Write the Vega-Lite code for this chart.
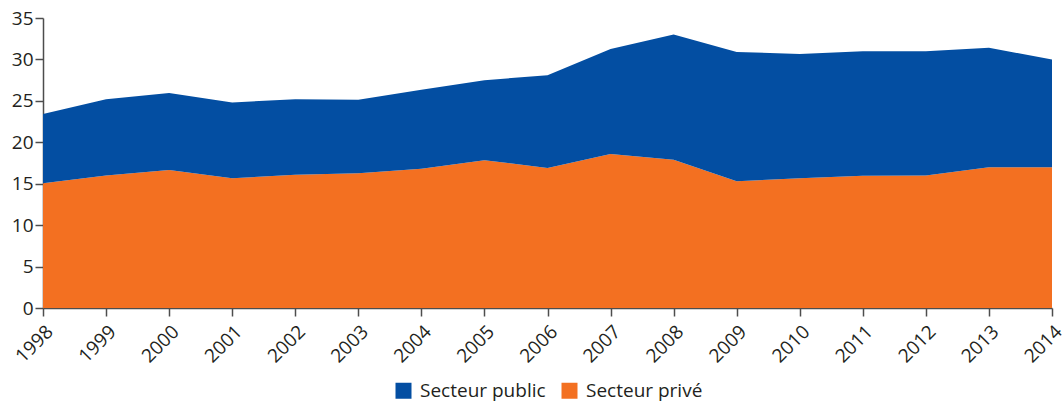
{
  "$schema": "https://vega.github.io/schema/vega-lite/v6.json",
  "width": 1009,
  "height": 290,
  "autosize": "none",
  "padding": {"left": 43, "top": 18, "right": 11, "bottom": 95},
  "background": "white",
  "config": {
    "view": {"stroke": null},
    "font": "Open Sans",
    "axis": {"labelFont": "Open Sans", "labelColor": "#231F20", "domainColor": "#4d4d4d", "tickColor": "#4d4d4d", "grid": false, "title": null, "tickSize": 8, "domainWidth": 1.5, "tickWidth": 1.5}
  },
  "data": {
    "values": [
      {"annee": 1998, "serie": "Secteur privé", "valeur": 15.07},
      {"annee": 1999, "serie": "Secteur privé", "valeur": 16.0},
      {"annee": 2000, "serie": "Secteur privé", "valeur": 16.67},
      {"annee": 2001, "serie": "Secteur privé", "valeur": 15.67},
      {"annee": 2002, "serie": "Secteur privé", "valeur": 16.07},
      {"annee": 2003, "serie": "Secteur privé", "valeur": 16.27},
      {"annee": 2004, "serie": "Secteur privé", "valeur": 16.8},
      {"annee": 2005, "serie": "Secteur privé", "valeur": 17.84},
      {"annee": 2006, "serie": "Secteur privé", "valeur": 16.9},
      {"annee": 2007, "serie": "Secteur privé", "valeur": 18.6},
      {"annee": 2008, "serie": "Secteur privé", "valeur": 17.9},
      {"annee": 2009, "serie": "Secteur privé", "valeur": 15.3},
      {"annee": 2010, "serie": "Secteur privé", "valeur": 15.67},
      {"annee": 2011, "serie": "Secteur privé", "valeur": 15.95},
      {"annee": 2012, "serie": "Secteur privé", "valeur": 16.0},
      {"annee": 2013, "serie": "Secteur privé", "valeur": 17.0},
      {"annee": 2014, "serie": "Secteur privé", "valeur": 17.0},
      {"annee": 1998, "serie": "Secteur public", "valeur": 8.33},
      {"annee": 1999, "serie": "Secteur public", "valeur": 9.2},
      {"annee": 2000, "serie": "Secteur public", "valeur": 9.27},
      {"annee": 2001, "serie": "Secteur public", "valeur": 9.13},
      {"annee": 2002, "serie": "Secteur public", "valeur": 9.13},
      {"annee": 2003, "serie": "Secteur public", "valeur": 8.86},
      {"annee": 2004, "serie": "Secteur public", "valeur": 9.54},
      {"annee": 2005, "serie": "Secteur public", "valeur": 9.66},
      {"annee": 2006, "serie": "Secteur public", "valeur": 11.2},
      {"annee": 2007, "serie": "Secteur public", "valeur": 12.65},
      {"annee": 2008, "serie": "Secteur public", "valeur": 15.1},
      {"annee": 2009, "serie": "Secteur public", "valeur": 15.6},
      {"annee": 2010, "serie": "Secteur public", "valeur": 14.98},
      {"annee": 2011, "serie": "Secteur public", "valeur": 15.05},
      {"annee": 2012, "serie": "Secteur public", "valeur": 15.0},
      {"annee": 2013, "serie": "Secteur public", "valeur": 14.4},
      {"annee": 2014, "serie": "Secteur public", "valeur": 13.0}
    ]
  },
  "mark": {"type": "area", "interpolate": "linear"},
  "encoding": {
    "x": {
      "field": "annee",
      "type": "quantitative",
      "scale": {"domain": [1998, 2014], "nice": false, "zero": false},
      "axis": {"values": [1998,1999,2000,2001,2002,2003,2004,2005,2006,2007,2008,2009,2010,2011,2012,2013,2014], "format": "d", "labelAngle": -45, "labelFontSize": 19, "labelPadding": 6, "labelDx": -4}
    },
    "y": {
      "field": "valeur",
      "type": "quantitative",
      "stack": "zero",
      "scale": {"domain": [0, 35], "nice": false},
      "axis": {"values": [0,5,10,15,20,25,30,35], "labelFontSize": 19, "labelPadding": 2}
    },
    "color": {
      "field": "serie",
      "type": "nominal",
      "scale": {"domain": ["Secteur public", "Secteur privé"], "range": ["#034EA2", "#F37021"]},
      "legend": {"title": null, "orient": "none", "legendX": 351, "legendY": 363, "direction": "horizontal", "symbolType": "square", "symbolSize": 256, "symbolStrokeWidth": 0, "symbolOpacity": 1, "labelFontSize": 19, "labelColor": "#231F20", "columnPadding": 14, "labelOffset": 7}
    },
    "order": {"field": "serie", "sort": "ascending"}
  }
}
